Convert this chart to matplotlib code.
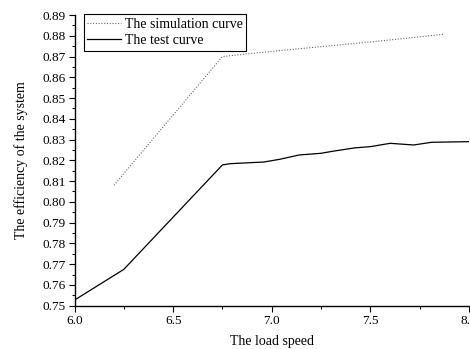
import matplotlib
matplotlib.use("Agg")
import matplotlib.pyplot as plt
from matplotlib.ticker import MultipleLocator, FormatStrFormatter

sim_x = [6.2, 6.75, 7.0, 7.5, 7.87]
sim_y = [0.8080, 0.8700, 0.8725, 0.8770, 0.8807]

test_x = [6.0, 6.25, 6.75, 6.79, 6.96, 7.04, 7.14, 7.25, 7.31, 7.42, 7.5, 7.6, 7.72, 7.81, 8.0]
test_y = [0.7527, 0.7675, 0.8178, 0.8184, 0.8192, 0.8205, 0.8226, 0.8234, 0.8244, 0.8260,
          0.8266, 0.8282, 0.8274, 0.8287, 0.8290]

plt.rcParams['font.family'] = ['Liberation Serif', 'DejaVu Serif']

fig = plt.figure(figsize=(4.70, 3.49), dpi=100)
ax = fig.add_axes([74.5/470, 1-305.7/349, (469-74.5)/470, (305.7-15)/349])

ax.plot(sim_x, sim_y, linestyle=(0, (1, 1.5)), color='#666666', linewidth=0.8, label='The simulation curve')
ax.plot(test_x, test_y, linestyle='-', color='black', linewidth=0.9, label='The test curve')

ax.set_xlim(6.0, 8.0)
ax.set_ylim(0.75, 0.89)
ax.xaxis.set_major_locator(MultipleLocator(0.5))
ax.xaxis.set_minor_locator(MultipleLocator(0.25))
ax.yaxis.set_major_locator(MultipleLocator(0.01))
ax.yaxis.set_minor_locator(MultipleLocator(0.005))
ax.xaxis.set_major_formatter(FormatStrFormatter('%.1f'))
ax.yaxis.set_major_formatter(FormatStrFormatter('%.2f'))

ax.spines['top'].set_visible(False)
ax.spines['right'].set_visible(False)
ax.spines['left'].set_linewidth(1.0)
ax.spines['bottom'].set_linewidth(1.0)
ax.tick_params(which='major', direction='out', length=4, width=0.8, labelsize=9.5, pad=2.5)
ax.tick_params(which='minor', direction='out', length=2.2, width=0.7)

ax.set_xlabel('The load speed', fontsize=10, labelpad=6)
ax.set_ylabel('The efficiency of the system', fontsize=10, labelpad=10)

leg = ax.legend(loc='upper left', bbox_to_anchor=(0.024, 1.003), fontsize=10, frameon=True,
                fancybox=False, framealpha=1, edgecolor='black', handlelength=2.4,
                handletextpad=0.3, borderpad=0.25, labelspacing=0.25, borderaxespad=0)
leg.get_frame().set_linewidth(0.8)

fig.savefig('out.png', dpi=100)
